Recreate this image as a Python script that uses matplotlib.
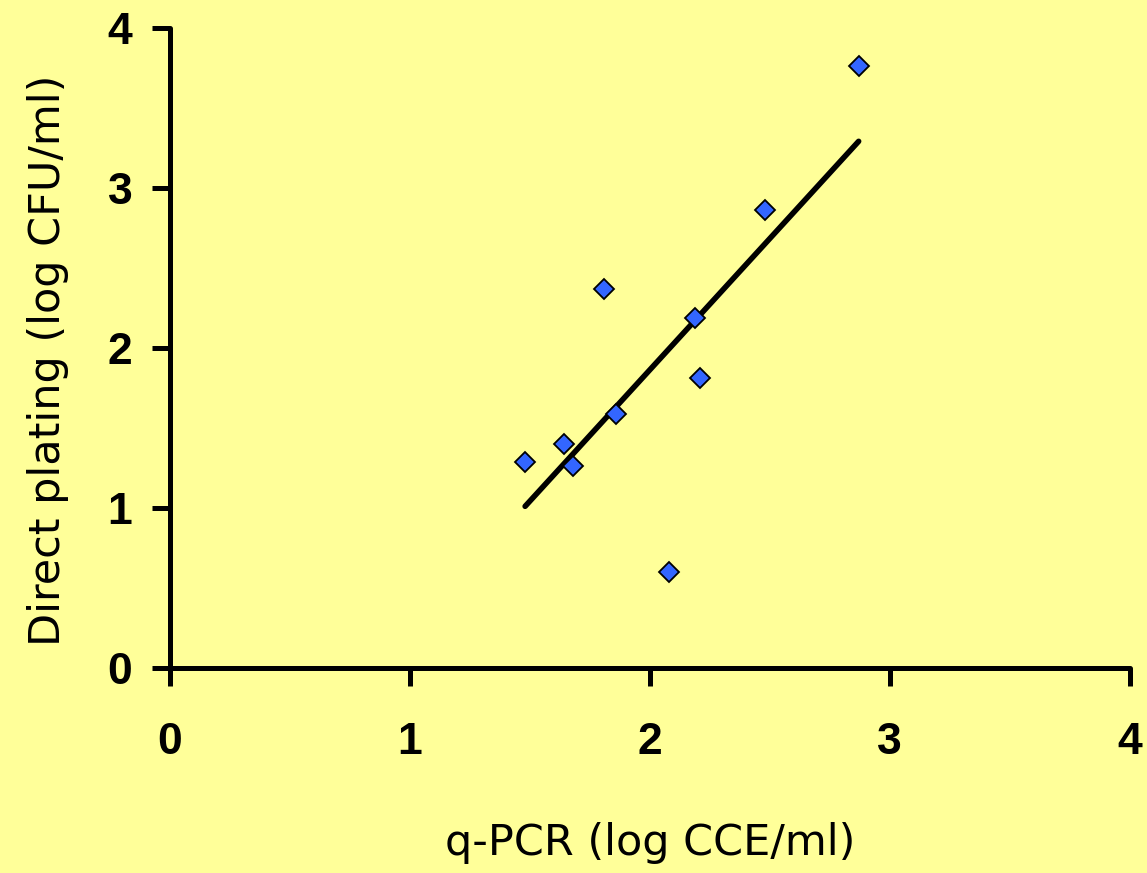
import numpy as np
import matplotlib.pyplot as plt

# q-PCR (log CCE/ml) vs direct plating (log CFU/ml)
qpcr = [1.48, 1.64, 1.68, 1.81, 1.86, 2.08, 2.19, 2.21, 2.48, 2.87]
plating = [1.29, 1.40, 1.26, 2.37, 1.59, 0.60, 2.19, 1.81, 2.86, 3.76]
ticks = [0, 1, 2, 3, 4]

bg = "#FFFF99"

fig = plt.figure(figsize=(11.47, 8.73), dpi=100, facecolor=bg)
ax = fig.add_axes([0.1482, 0.2348, 0.8368, 0.7332])
ax.set_facecolor(bg)

# linear trend line over the data range
slope, icpt = np.polyfit(qpcr, plating, 1)
xs = np.array([min(qpcr), max(qpcr)])
ax.plot(xs, slope * xs + icpt, color="black", lw=4, solid_capstyle="round", zorder=2)

ax.plot(qpcr, plating, "D", ms=10, mfc="#3366FF", mec="black", mew=1.3, zorder=3)

ax.set_xlim(0, 4)
ax.set_ylim(0, 4)
ax.set_xticks(ticks)
ax.set_yticks(ticks)

for s in ["top", "right"]:
    ax.spines[s].set_visible(False)
for s in ["left", "bottom"]:
    ax.spines[s].set_linewidth(3.6)
    ax.spines[s].set_capstyle("round")
ax.tick_params(direction="out", length=13, width=3.6)
ax.tick_params(axis="x", pad=26)
ax.tick_params(axis="y", pad=14)
for lab in ax.get_xticklabels() + ax.get_yticklabels():
    lab.set_fontfamily("Liberation Sans")
    lab.set_fontweight("bold")
    lab.set_fontsize(32)

ax.set_xlabel("q-PCR (log CCE/ml)", fontsize=31, labelpad=42)
ax.set_ylabel("Direct plating (log CFU/ml)", fontsize=31)
ax.yaxis.set_label_coords(-0.105, 0.48)

plt.savefig("out.png", dpi=100, facecolor=bg)
